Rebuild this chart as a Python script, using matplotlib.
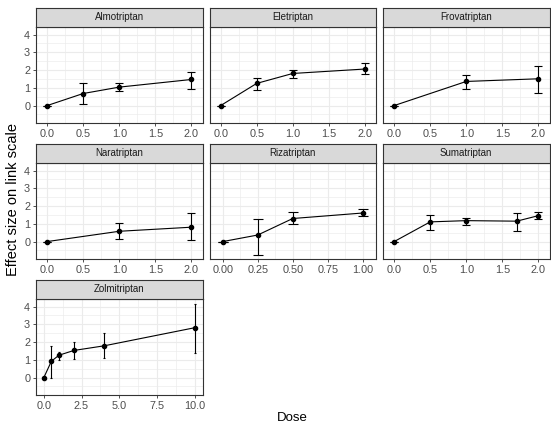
import matplotlib
matplotlib.use("Agg")
import matplotlib.pyplot as plt
from matplotlib.ticker import FixedLocator

plt.rcParams['font.family'] = ['Liberation Sans', 'DejaVu Sans']

# ---- data ----
drugs = ["Almotriptan", "Eletriptan", "Frovatriptan", "Naratriptan",
         "Rizatriptan", "Sumatriptan", "Zolmitriptan"]

almo_dose = [0.0, 0.5, 1.0, 2.0]
almo_est = [0.0, 0.68, 1.04, 1.47]
almo_lo = [0.0, 0.09, 0.83, 0.96]
almo_hi = [0.0, 1.25, 1.30, 1.92]

ele_dose = [0.0, 0.5, 1.0, 2.0]
ele_est = [0.0, 1.25, 1.81, 2.06]
ele_lo = [0.0, 0.87, 1.55, 1.77]
ele_hi = [0.0, 1.58, 2.02, 2.40]

frova_dose = [0.0, 1.0, 2.0]
frova_est = [0.0, 1.36, 1.51]
frova_lo = [0.0, 0.91, 0.70]
frova_hi = [0.0, 1.75, 2.23]

nara_dose = [0.0, 1.0, 2.0]
nara_est = [0.0, 0.58, 0.81]
nara_lo = [0.0, 0.15, 0.09]
nara_hi = [0.0, 1.06, 1.62]

riza_dose = [0.0, 0.25, 0.5, 1.0]
riza_est = [0.0, 0.37, 1.30, 1.61]
riza_lo = [0.0, -0.77, 0.97, 1.44]
riza_hi = [0.0, 1.30, 1.67, 1.84]

suma_dose = [0.0, 0.5, 1.0, 1.7, 2.0]
suma_est = [0.0, 1.11, 1.18, 1.15, 1.46]
suma_lo = [0.0, 0.64, 0.96, 0.60, 1.28]
suma_hi = [0.0, 1.52, 1.33, 1.60, 1.69]

zolmi_dose = [0.0, 0.5, 1.0, 2.0, 4.0, 10.0]
zolmi_est = [0.0, 0.92, 1.26, 1.53, 1.79, 2.81]
zolmi_lo = [0.0, -0.02, 0.98, 1.06, 1.08, 1.36]
zolmi_hi = [0.0, 1.79, 1.45, 1.98, 2.49, 4.15]

x_ticks_02 = [0.0, 0.5, 1.0, 1.5, 2.0]
x_ticks_riza = [0.0, 0.25, 0.5, 0.75, 1.0]
x_ticks_zolmi = [0.0, 2.5, 5.0, 7.5, 10.0]
x_labels_02 = ["0.0", "0.5", "1.0", "1.5", "2.0"]
x_labels_riza = ["0.00", "0.25", "0.50", "0.75", "1.00"]
x_labels_zolmi = ["0.0", "2.5", "5.0", "7.5", "10.0"]
y_ticks = [0, 1, 2, 3, 4]

panels = [
    (almo_dose, almo_est, almo_lo, almo_hi, x_ticks_02, x_labels_02),
    (ele_dose, ele_est, ele_lo, ele_hi, x_ticks_02, x_labels_02),
    (frova_dose, frova_est, frova_lo, frova_hi, x_ticks_02, x_labels_02),
    (nara_dose, nara_est, nara_lo, nara_hi, x_ticks_02, x_labels_02),
    (riza_dose, riza_est, riza_lo, riza_hi, x_ticks_riza, x_labels_riza),
    (suma_dose, suma_est, suma_lo, suma_hi, x_ticks_02, x_labels_02),
    (zolmi_dose, zolmi_est, zolmi_lo, zolmi_hi, x_ticks_zolmi, x_labels_zolmi),
]

# ---- layout ----
W, H = 551, 428
fig = plt.figure(figsize=(W / 100, H / 100), dpi=100)
fig.patch.set_facecolor("white")

col_left = [36, 209.5, 383]
panel_w = 166.5
strip_top0 = 8
strip_h = 19
panel_h = 96.3
row_pitch = 136

border = "#333333"
grid_c = "#EBEBEB"

def fx(px):
    return px / W

def fy(py):
    return 1 - py / H

for i, (name, (xd, est, lo, hi, xt, xl)) in enumerate(zip(drugs, panels)):
    r, c = divmod(i, 3)
    left = col_left[c]
    stop = strip_top0 + r * row_pitch
    ptop = stop + strip_h
    pbot = ptop + panel_h

    ax = fig.add_axes([fx(left), fy(pbot), fx(panel_w), (panel_h) / H])
    sax = fig.add_axes([fx(left), fy(ptop), fx(panel_w), strip_h / H])
    sax.set_facecolor("#D9D9D9")
    sax.set_xticks([]); sax.set_yticks([])
    for sp in sax.spines.values():
        sp.set_color(border); sp.set_linewidth(0.8)
    sax.text(0.5, 0.5, name, ha="center", va="center", fontsize=7,
             color="#1A1A1A", transform=sax.transAxes)

    if name == "Zolmitriptan":
        ax.set_xlim(-0.52, 10.52)
        cap = 1.0
    elif name == "Rizatriptan":
        ax.set_xlim(-0.095, 1.095)
        cap = 3.6
    else:
        ax.set_xlim(-0.155, 2.155)
        cap = 3.2
    ax.set_ylim(-1.0, 4.43)

    ax.xaxis.set_major_locator(FixedLocator(xt))
    ax.set_xticklabels(xl)
    minors_x = [(a + b) / 2 for a, b in zip(xt[:-1], xt[1:])]
    ax.xaxis.set_minor_locator(FixedLocator(minors_x))
    ax.yaxis.set_major_locator(FixedLocator(y_ticks))
    ax.yaxis.set_minor_locator(FixedLocator([-0.5, 0.5, 1.5, 2.5, 3.5]))
    ax.grid(which="major", color=grid_c, linewidth=0.8)
    ax.grid(which="minor", color=grid_c, linewidth=0.45)
    ax.set_axisbelow(True)
    ax.tick_params(which="minor", length=0)
    ax.tick_params(which="major", length=2.2, width=0.6, color=border,
                   labelsize=7.8, labelcolor="#4D4D4D", pad=2)
    if c != 0:
        ax.tick_params(axis="y", left=False, labelleft=False)
    for sp in ax.spines.values():
        sp.set_color(border); sp.set_linewidth(0.8)

    yerr = [[e - l for e, l in zip(est, lo)], [h - e for e, h in zip(est, hi)]]
    ax.plot(xd, est, color="black", linewidth=0.8, zorder=3)
    ax.errorbar(xd, est, yerr=yerr, fmt="o", color="black", markersize=3,
                elinewidth=0.8, capsize=cap, capthick=0.8, zorder=4)

fig.text(fx(13), fy(200), "Effect size on link scale", rotation=90,
         ha="center", va="center", fontsize=10.5, color="black")
fig.text(fx(292.5), fy(418), "Dose", ha="center", va="center", fontsize=9.5,
         color="black")

fig.savefig("out.png", dpi=100)
